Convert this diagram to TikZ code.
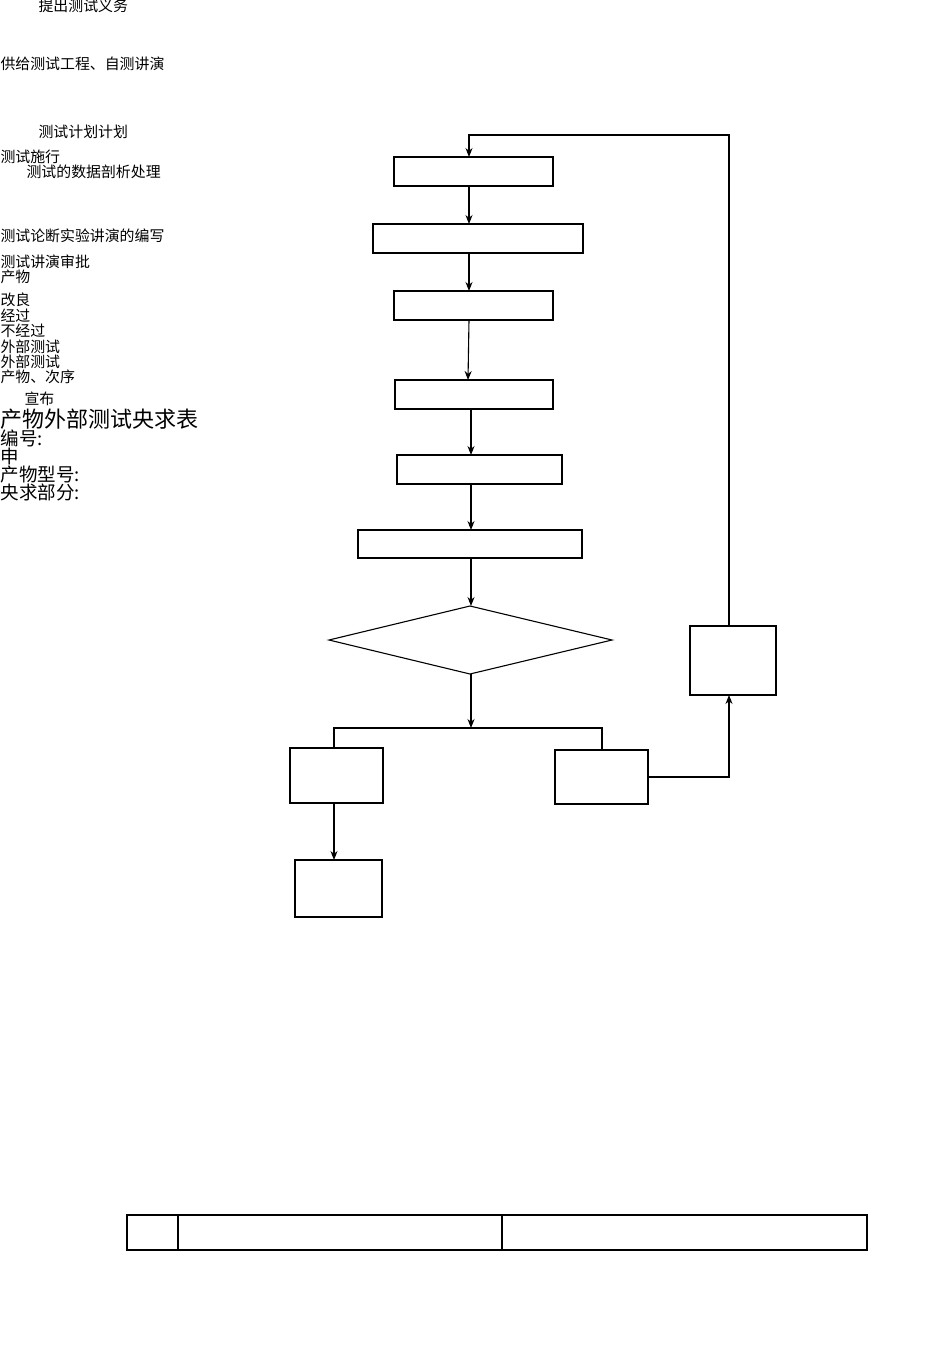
\documentclass[tikz,border=0pt]{standalone}
\usepackage{fontspec}
\setmainfont{Noto Sans CJK SC}
\usetikzlibrary{arrows.meta}
\begin{document}
\begin{tikzpicture}[x=1pt,y=-1pt,line width=1.1pt,
  t/.style={anchor=base west,inner sep=0,font=\fontsize{14.9}{15}\selectfont},
  tb/.style={anchor=base west,inner sep=0,font=\fontsize{18.5}{18.5}\selectfont},
  ar/.style={-{Stealth[length=9pt,width=7pt]}}]
\useasboundingbox (0,0) rectangle (950,1346);
\node[t] (a1) at (38,12) {提出测试义务};
\node[t] (a2) at (0,70) {供给测试工程、自测讲演};
\node[t] (a3) at (38,137) {测试计划计划};
\node[t] (a4) at (0,162) {测试施行};
\node[t] (a5) at (26,177) {测试的数据剖析处理};
\node[t] (a6) at (0,241) {测试论断实验讲演的编写};
\node[t] (a7) at (0,267) {测试讲演审批};
\node[t] (a8) at (0,282) {产物};
\node[t] (a9) at (0,305) {改良};
\node[t] (a10) at (0,321) {经过};
\node[t] (a11) at (0,336) {不经过};
\node[t] (a12) at (0,352) {外部测试};
\node[t] (a13) at (0,367) {外部测试};
\node[t] (a14) at (0,382) {产物、次序};
\node[t] (a15) at (24,404) {宣布};
\node[anchor=base west,inner sep=0,font=\fontsize{22}{22}\selectfont] (a16) at (0,427) {产物外部测试央求表};
\node[tb] (a17) at (0,445) {编号:};
\node[tb] (a18) at (0,463) {申};
\node[tb] (a19) at (0,481) {产物型号:};
\node[tb] (a20) at (0,499) {央求部分:};
\draw (394,157) rectangle (553,186); \coordinate (b1t) at (469,157); \coordinate (b1b) at (469,186);
\draw (373,224) rectangle (583,253); \coordinate (b2t) at (469,224); \coordinate (b2b) at (469,253);
\draw (394,291) rectangle (553,320); \coordinate (b3t) at (469,291); \coordinate (b3b) at (469,320);
\draw (395,380) rectangle (553,409); \coordinate (b4t) at (468,380); \coordinate (b4b) at (471,409);
\draw (397,455) rectangle (562,484); \coordinate (b5t) at (471,455); \coordinate (b5b) at (471,484);
\draw (358,530) rectangle (582,558); \coordinate (b6t) at (471,530); \coordinate (b6b) at (471,558);
\draw (329,640) -- (470,606) -- (612,640) -- (470,674) -- cycle;
\coordinate (dt) at (471,606); \coordinate (db) at (471,674);
\draw (290,748) rectangle (383,803);
\draw (295,860) rectangle (382,917);
\draw (555,750) rectangle (648,804);
\draw (690,626) rectangle (776,695);
\draw[ar] (b1b) -- (b2t);
\draw[ar] (b2b) -- (b3t);
\draw[ar] (b3b) -- (b4t);
\draw[ar] (b4b) -- (b5t);
\draw[ar] (b5b) -- (b6t);
\draw[ar] (b6b) -- (dt);
\coordinate (j) at (471,728);
\draw[ar] (db) -- (j);
\draw (334,748) -- (334,728) -- (602,728) -- (602,750);
\draw[ar] (334,803) -- (334,860);
\draw[ar] (648,777) -- (729,777) -- (729,695);
\draw[ar] (729,626) -- (729,135) -- (469,135) -- (b1t);
\draw (127,1215) rectangle (867,1250);
\draw (178,1215) -- (178,1250);
\draw (502,1215) -- (502,1250);
\end{tikzpicture}
\end{document}
